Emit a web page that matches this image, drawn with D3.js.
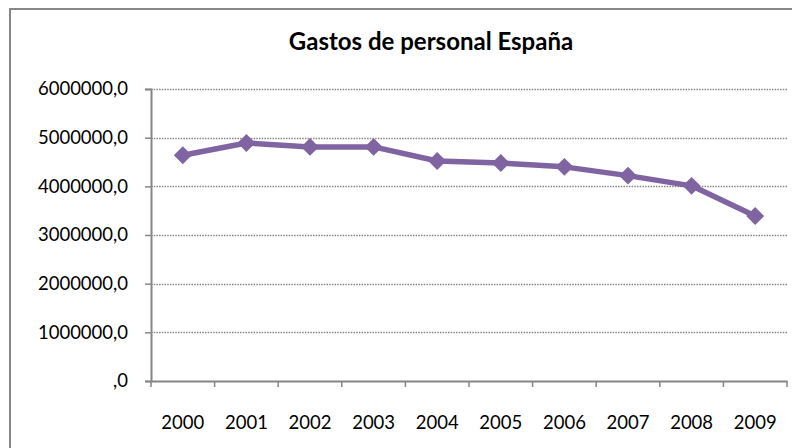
<!DOCTYPE html>
<html>
<head>
<meta charset="utf-8">
<script src="https://cdn.jsdelivr.net/npm/d3@7"></script>
<style>
  html, body { margin: 0; padding: 0; background: #fff; }
  svg { display: block; font-family: Lato, 'Open Sans', sans-serif; }
</style>
</head>
<body>
<svg id="chart" width="792" height="448"></svg>
<script>
const title = 'Gastos de personal España'
const years = ['2000', '2001', '2002', '2003', '2004', '2005', '2006', '2007', '2008', '2009']
const gastos = [4640000, 4890000, 4810000, 4810000, 4520000, 4480000, 4400000, 4220000, 4010000, 3390000]
const yTicks = [0, 1000000, 2000000, 3000000, 4000000, 5000000, 6000000]

const lineColor = '#8064a2'
const axisColor = '#868686'

const margin = { top: 89, right: 5, bottom: 67, left: 151 }
const width = 792, height = 448

const svg = d3.select('#chart')

// chart area frame (cut off at right and bottom like the picture)
svg.append('rect')
	.attr('x', 10).attr('y', 9)
	.attr('width', 800).attr('height', 460)
	.attr('fill', '#fff')
	.attr('stroke', axisColor)
	.attr('stroke-width', 2)

svg.append('text')
	.attr('x', 431).attr('y', 50)
	.attr('text-anchor', 'middle')
	.attr('font-size', 24)
	.attr('font-weight', 'bold')
	.attr('fill', '#000')
	.text(title)

const x = d3.scaleBand()
	.domain(years)
	.range([margin.left, width - margin.right])

const y = d3.scaleLinear()
	.domain([0, 6000000])
	.range([height - margin.bottom, margin.top])

const fmt = (v) => v === 0 ? ',0' : v + ',0'

// dotted gridlines
svg.append('g')
	.selectAll('line')
	.data(yTicks.filter((d) => d > 0))
	.join('line')
		.attr('x1', margin.left).attr('x2', width - margin.right)
		.attr('y1', (d) => Math.round(y(d)) + 0.5)
		.attr('y2', (d) => Math.round(y(d)) + 0.5)
		.attr('stroke', axisColor)
		.attr('stroke-width', 1.3)
		.attr('stroke-dasharray', '1.5,1.2')

// y axis
const yAxis = svg.append('g')
	.attr('transform', `translate(${margin.left},0)`)
	.call(d3.axisLeft(y).tickValues(yTicks).tickFormat(fmt).tickSize(6).tickPadding(17))
yAxis.select('.domain').attr('stroke', axisColor).attr('stroke-width', 2)
yAxis.selectAll('.tick line').attr('stroke', axisColor).attr('stroke-width', 1.5)
yAxis.selectAll('.tick text')
	.attr('font-size', 18.5)
	.attr('fill', '#000')
	.attr('font-family', 'Lato, sans-serif')

// x axis, ticks at category boundaries
const xAxis = svg.append('g')
	.attr('transform', `translate(0,${height - margin.bottom})`)
	.call(d3.axisBottom(x).tickSize(0).tickPadding(35))
xAxis.select('.domain').attr('stroke', axisColor).attr('stroke-width', 2)
xAxis.selectAll('.tick text')
	.attr('font-size', 18.5)
	.attr('fill', '#000')
	.attr('font-family', 'Lato, sans-serif')

xAxis.selectAll('.sep')
	.data(years.concat(['end']))
	.join('line')
		.attr('class', 'sep')
		.attr('x1', (d, i) => i < years.length ? x(d) : x.range()[1])
		.attr('x2', (d, i) => i < years.length ? x(d) : x.range()[1])
		.attr('y1', 0).attr('y2', 6)
		.attr('stroke', axisColor)
		.attr('stroke-width', 1.5)

const cx = (d, i) => x(years[i]) + x.bandwidth() / 2

const line = d3.line()
	.x(cx)
	.y((d) => y(d))

svg.append('path')
	.datum(gastos)
	.attr('d', line)
	.attr('fill', 'none')
	.attr('stroke', lineColor)
	.attr('stroke-width', 5.5)
	.attr('stroke-linejoin', 'round')

svg.append('g')
	.selectAll('path')
	.data(gastos)
	.join('path')
		.attr('d', d3.symbol().type(d3.symbolSquare).size(160))
		.attr('transform', (d, i) => `translate(${cx(d, i)},${y(d)}) rotate(45)`)
		.attr('fill', lineColor)
</script>
</body>
</html>
